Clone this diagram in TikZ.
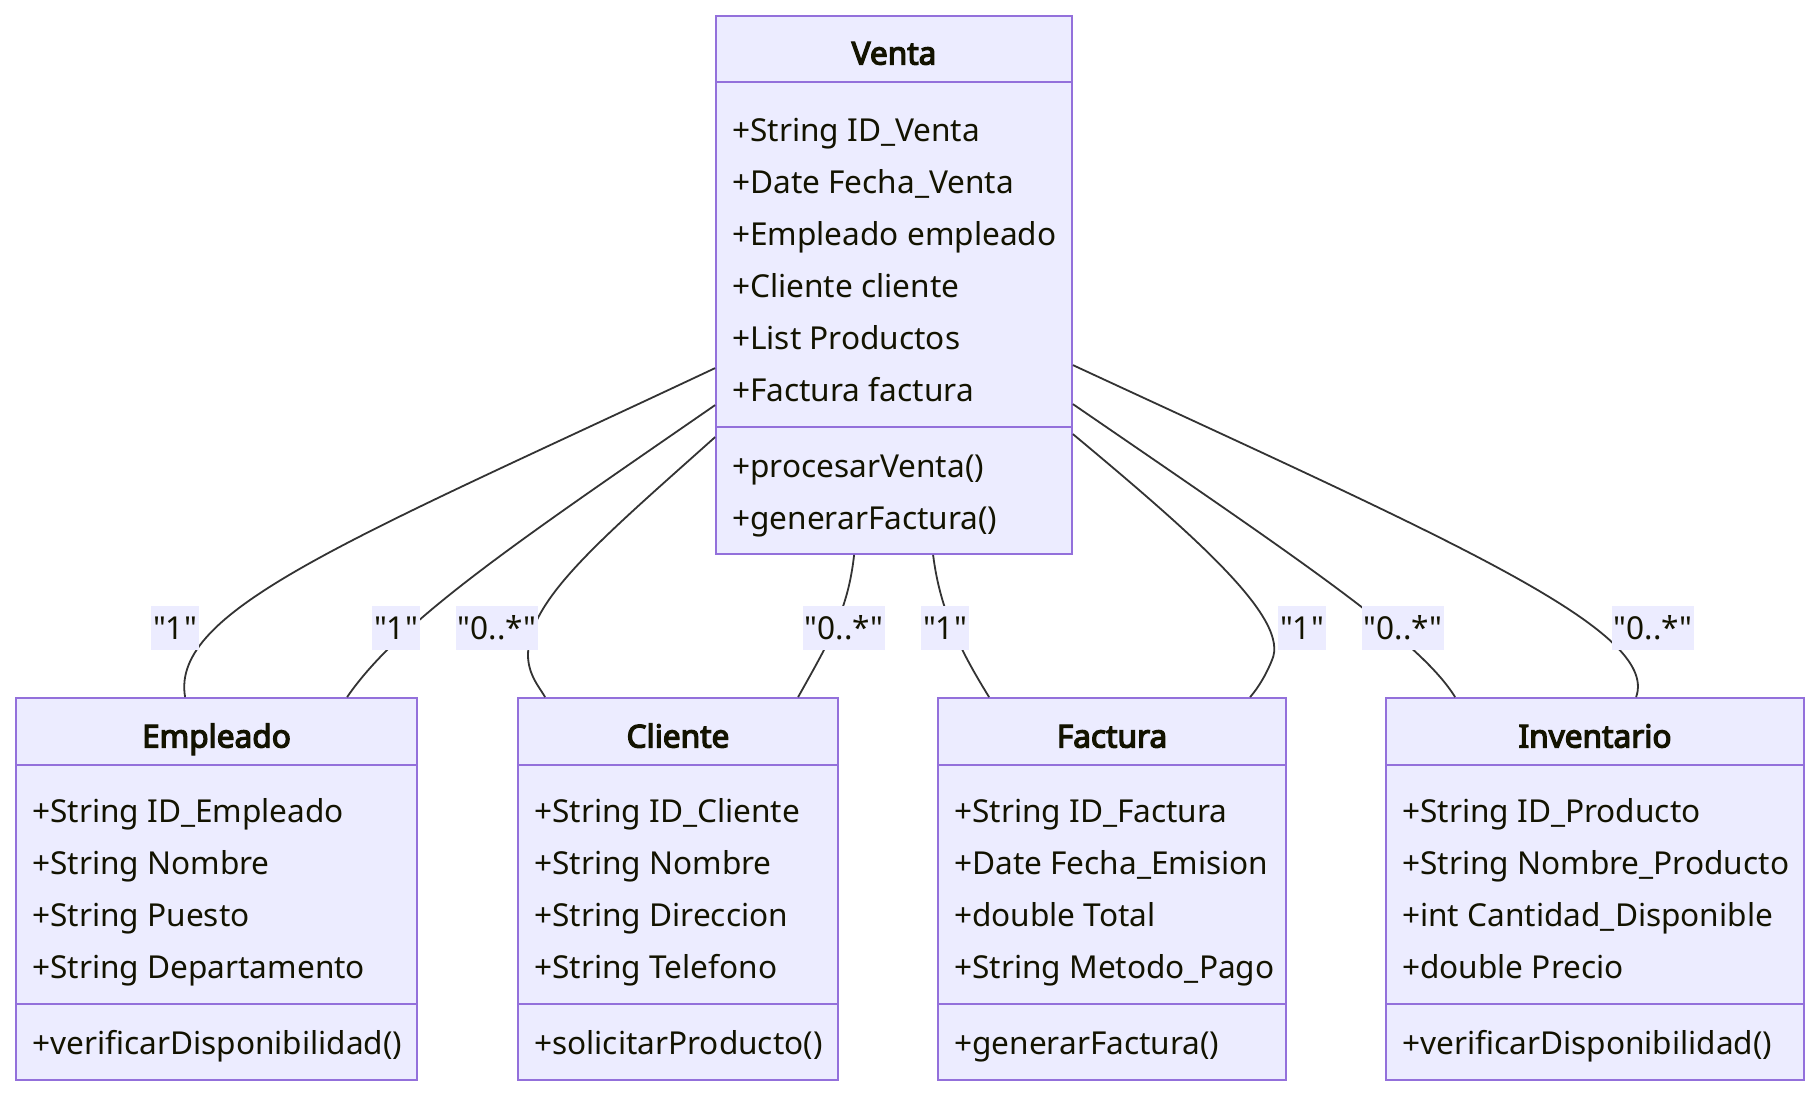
\documentclass[tikz,border=0pt]{standalone}
\usepackage{fontspec}
\setmainfont{Noto Sans}
\newfontfamily\multfont{Noto Sans}
\newfontfamily\titlefont{Noto Sans}[FakeBold=4]
\usetikzlibrary{positioning}

\definecolor{boxfill}{HTML}{ECECFF}
\definecolor{boxline}{HTML}{9370DB}
\definecolor{edgeline}{HTML}{333333}
\definecolor{txt}{HTML}{131300}

\tikzset{
  classbox/.style={draw=boxline,fill=boxfill,line width=1.8pt,inner sep=0pt},
  divider/.style={draw=boxline,line width=1.8pt},
  title/.style={inner sep=0pt,text height=23pt,text depth=0pt,font=\fontsize{31.6}{38}\titlefont,text=txt},
  attr/.style={anchor=west,inner sep=0pt,text height=23pt,text depth=0pt,font=\fontsize{31.6}{38}\selectfont,text=txt},
  assoc/.style={draw=edgeline,line width=1.8pt},
  mult/.style={fill=boxfill,inner xsep=2pt,inner ysep=0pt,minimum height=44pt,text height=23pt,text depth=0pt,font=\fontsize{31.6}{38}\multfont,text=txt},
}

\begin{document}
\begin{tikzpicture}[x=1pt,y=-1pt]

\useasboundingbox (0,0) rectangle (1820,1096);

%boxes
\node[classbox,minimum width=356pt,minimum height=538pt] (venta) at (894,285) {};
\node[classbox,minimum width=401pt,minimum height=382pt] (empleado) at (216.5,889) {};
\node[classbox,minimum width=320pt,minimum height=382pt] (cliente) at (678,889) {};
\node[classbox,minimum width=348pt,minimum height=382pt] (factura) at (1112,889) {};
\node[classbox,minimum width=418pt,minimum height=382pt] (inventario) at (1595,889) {};

%dividers
\draw[divider] ([yshift=-67pt]venta.north west) -- ([yshift=-67pt]venta.north east);
\draw[divider] ([yshift=-412pt]venta.north west) -- ([yshift=-412pt]venta.north east);
\draw[divider] ([yshift=-68pt]empleado.north west) -- ([yshift=-68pt]empleado.north east);
\draw[divider] ([yshift=-307pt]empleado.north west) -- ([yshift=-307pt]empleado.north east);
\draw[divider] ([yshift=-68pt]cliente.north west) -- ([yshift=-68pt]cliente.north east);
\draw[divider] ([yshift=-307pt]cliente.north west) -- ([yshift=-307pt]cliente.north east);
\draw[divider] ([yshift=-68pt]factura.north west) -- ([yshift=-68pt]factura.north east);
\draw[divider] ([yshift=-307pt]factura.north west) -- ([yshift=-307pt]factura.north east);
\draw[divider] ([yshift=-68pt]inventario.north west) -- ([yshift=-68pt]inventario.north east);
\draw[divider] ([yshift=-307pt]inventario.north west) -- ([yshift=-307pt]inventario.north east);

%Venta
\node[title] (venta-t) at (894,53) {Venta};
\node[attr] (venta-a1) at (732,130) {+String ID\_Venta};
\node[attr] (venta-a2) at (732,182) {+Date Fecha\_Venta};
\node[attr] (venta-a3) at (732,234) {+Empleado empleado};
\node[attr] (venta-a4) at (732,286) {+Cliente cliente};
\node[attr] (venta-a5) at (732,338) {+List Productos};
\node[attr] (venta-a6) at (732,390) {+Factura factura};
\node[attr] (venta-m1) at (732,466) {+procesarVenta()};
\node[attr] (venta-m2) at (732,518) {+generarFactura()};

%Empleado
\node[title] (empleado-t) at (216.5,736) {Empleado};
\node[attr] (empleado-a1) at (32,811) {+String ID\_Empleado};
\node[attr] (empleado-a2) at (32,863) {+String Nombre};
\node[attr] (empleado-a3) at (32,915) {+String Puesto};
\node[attr] (empleado-a4) at (32,967) {+String Departamento};
\node[attr] (empleado-m1) at (32,1043) {+verificarDisponibilidad()};

%Cliente
\node[title] (cliente-t) at (678,736) {Cliente};
\node[attr] (cliente-a1) at (534,811) {+String ID\_Cliente};
\node[attr] (cliente-a2) at (534,863) {+String Nombre};
\node[attr] (cliente-a3) at (534,915) {+String Direccion};
\node[attr] (cliente-a4) at (534,967) {+String Telefono};
\node[attr] (cliente-m1) at (534,1043) {+solicitarProducto()};

%Factura
\node[title] (factura-t) at (1112,736) {Factura};
\node[attr] (factura-a1) at (954,811) {+String ID\_Factura};
\node[attr] (factura-a2) at (954,863) {+Date Fecha\_Emision};
\node[attr] (factura-a3) at (954,915) {+double Total};
\node[attr] (factura-a4) at (954,967) {+String Metodo\_Pago};
\node[attr] (factura-m1) at (954,1043) {+generarFactura()};

%Inventario
\node[title] (inventario-t) at (1595,736) {Inventario};
\node[attr] (inventario-a1) at (1402,811) {+String ID\_Producto};
\node[attr] (inventario-a2) at (1402,863) {+String Nombre\_Producto};
\node[attr] (inventario-a3) at (1402,915) {+int Cantidad\_Disponible};
\node[attr] (inventario-a4) at (1402,967) {+double Precio};
\node[attr] (inventario-m1) at (1402,1043) {+verificarDisponibilidad()};

%associations
\draw[assoc] ([yshift=-353pt]venta.north west) .. controls (350,540) and (170,610) .. ([xshift=170pt]empleado.north west);
\draw[assoc] ([yshift=-390pt]venta.north west) .. controls (520,540) and (400,620) .. ([xshift=332pt]empleado.north west);
\draw[assoc] ([yshift=-422pt]venta.north west) .. controls (600,540) and (528,600) .. (528,655) .. controls (528,675) and (540,688) .. ([xshift=28pt]cliente.north west);
\draw[assoc] ([xshift=139pt]venta.south west) .. controls (848,610) and (830,640) .. ([xshift=281pt]cliente.north west);
\draw[assoc] ([xshift=218pt]venta.south west) .. controls (940,610) and (960,650) .. ([xshift=52pt]factura.north west);
\draw[assoc] ([yshift=-419pt]venta.north east) .. controls (1200,540) and (1290,620) .. (1272,660) .. controls (1266,675) and (1258,688) .. ([xshift=313pt]factura.north west);
\draw[assoc] ([yshift=-389pt]venta.north east) .. controls (1300,560) and (1420,640) .. ([xshift=70pt]inventario.north west);
\draw[assoc] ([yshift=-350pt]venta.north east) .. controls (1450,540) and (1660,630) .. ([xshift=251pt]inventario.north west);

%multiplicities
\node[mult] (m-emp1) at (175,628) {"1"};
\node[mult] (m-emp2) at (396,628) {"1"};
\node[mult] (m-cli1) at (497,628) {"0..*"};
\node[mult] (m-cli2) at (844,628) {"0..*"};
\node[mult] (m-fac1) at (945,628) {"1"};
\node[mult] (m-fac2) at (1302,628) {"1"};
\node[mult] (m-inv1) at (1403,628) {"0..*"};
\node[mult] (m-inv2) at (1653,628) {"0..*"};

\end{tikzpicture}
\end{document}
